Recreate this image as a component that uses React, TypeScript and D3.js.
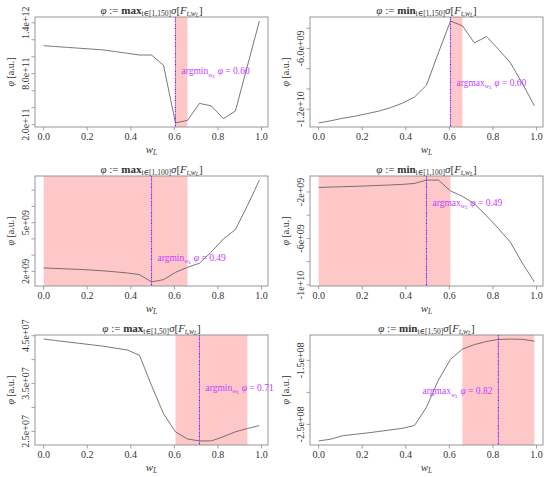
import * as d3 from 'd3';

// grid of w_L values shared by all six panels
const wL = [0, 0.055, 0.11, 0.165, 0.22, 0.275, 0.33, 0.385, 0.44, 0.495, 0.55, 0.605, 0.66, 0.715, 0.77, 0.825, 0.88, 0.935, 0.99];

const maxSigma150 = [1.13e12, 1.12e12, 1.11e12, 1.1e12, 1.09e12, 1.08e12, 1.06e12, 1.04e12, 1.02e12, 1.02e12, 9.0e11, 2.2e11, 2.5e11, 4.5e11, 4.2e11, 2.7e11, 3.6e11, 8.9e11, 1.42e12];
const minQ150 = [-1.336e10, -1.315e10, -1.29e10, -1.27e10, -1.245e10, -1.22e10, -1.185e10, -1.14e10, -1.08e10, -9.63e9, -6.4e9, -3.29e9, -3.76e9, -5.46e9, -4.81e9, -6.07e9, -7.42e9, -9.46e9, -1.166e10];
const maxSigma100 = [2.21e9, 2.18e9, 2.15e9, 2.12e9, 2.08e9, 2.03e9, 1.97e9, 1.9e9, 1.8e9, 1.35e9, 1.49e9, 1.94e9, 2.25e9, 2.5e9, 3.2e9, 4.0e9, 4.57e9, 6.04e9, 7.62e9];
const minQ100 = [-1.62e9, -1.58e9, -1.55e9, -1.52e9, -1.48e9, -1.44e9, -1.4e9, -1.35e9, -1.27e9, -0.98e9, -0.98e9, -1.91e9, -2.38e9, -3.02e9, -4.04e9, -5.15e9, -6.32e9, -8.13e9, -9.74e9];
const maxSigma50 = [4.43e7, 4.4e7, 4.37e7, 4.34e7, 4.31e7, 4.28e7, 4.24e7, 4.2e7, 4.09e7, 3.46e7, 2.87e7, 2.49e7, 2.34e7, 2.3e7, 2.3e7, 2.39e7, 2.49e7, 2.56e7, 2.62e7];
const minQ50 = [-2.757e8, -2.73e8, -2.676e8, -2.655e8, -2.634e8, -2.61e8, -2.585e8, -2.56e8, -2.516e8, -2.23e8, -1.805e8, -1.484e8, -1.324e8, -1.254e8, -1.206e8, -1.174e8, -1.168e8, -1.172e8, -1.2e8];

const seriesList = [maxSigma150, minQ150, maxSigma100, minQ100, maxSigma50, minQ50];
const horizons = ['1,150', '1,150', '1,100', '1,100', '1,50', '1,50'];
const operators = ['max', 'min', 'max', 'min', 'max', 'min'];
const argLabels = ['argmin', 'argmax', 'argmin', 'argmax', 'argmin', 'argmax'];
const bestW = [0.605, 0.605, 0.495, 0.495, 0.715, 0.825];
const bestText = ['0.60', '0.60', '0.49', '0.49', '0.71', '0.82'];
const bands: [number, number][] = [[0.605, 0.66], [0.605, 0.66], [0, 0.66], [0, 0.605], [0.605, 0.935], [0.66, 0.99]];
const labelY = [8.3e11, -9.36e9, 2.84e9, -2.93e9, 3.41e7, -1.98e8];
const labelLeft = [false, false, false, false, false, true];
const yTicks = [
  [2e11, 4e11, 6e11, 8e11, 1e12, 1.2e12, 1.4e12],
  [-1.2e10, -1e10, -8e9, -6e9, -4e9],
  [2e9, 3e9, 4e9, 5e9, 6e9, 7e9],
  [-1e10, -8e9, -6e9, -4e9, -2e9],
  [2.5e7, 3e7, 3.5e7, 4e7, 4.5e7],
  [-2.5e8, -2e8, -1.5e8],
];
const yTickLabels = [
  ['2.0e+11', '', '', '8.0e+11', '', '', '1.4e+12'],
  ['-1.2e+10', '', '', '-6.0e+09', ''],
  ['2e+09', '', '', '5e+09', '', ''],
  ['-1e+10', '', '-6e+09', '', '-2e+09'],
  ['2.5e+07', '', '3.5e+07', '', '4.5e+07'],
  ['-2.5e+08', '', '-1.5e+08'],
];
const xTicks = [0, 0.2, 0.4, 0.6, 0.8, 1.0];

const W = 550;
const H = 477;
const FONT = "'Times New Roman', 'Liberation Serif', Tinos, 'DejaVu Serif', serif";
const BOX_W = 233;
const BOX_H = 110;
const COL_X = [35, 310];
const ROW_Y = [17, 176, 335];
const INK = '#333';

function pad(ext: [number, number]): [number, number] {
  const r = ext[1] - ext[0];
  return [ext[0] - 0.04 * r, ext[1] + 0.04 * r];
}

function Panel({ i }: { i: number }) {
  const left = COL_X[i % 2];
  const top = ROW_Y[Math.floor(i / 2)];
  const values = seriesList[i];
  const x = d3.scaleLinear().domain(pad(d3.extent(wL) as [number, number])).range([left, left + BOX_W]);
  const y = d3.scaleLinear().domain(pad(d3.extent(values) as [number, number])).range([top + BOX_H, top]);
  const line = d3.line<number>().x((_, k) => x(wL[k])).y((d) => y(d));
  const bx = x(bestW[i]);
  const lx = labelLeft[i] ? bx - 6 : bx + 6;
  const midY = top + BOX_H / 2;
  return (
    <g>
      <rect x={x(bands[i][0])} y={top} width={x(bands[i][1]) - x(bands[i][0])} height={BOX_H} fill="#ffc8c8" />
      <path d={line(values) ?? ''} fill="none" stroke="#555" strokeWidth={0.8} />
      <line x1={bx} x2={bx} y1={top} y2={top + BOX_H} stroke="#2a2aff" strokeWidth={1.1} strokeDasharray="1.2 2.4" />
      <line x1={bx} x2={bx} y1={top} y2={top + BOX_H} stroke="#cc33ff" strokeWidth={1.1} strokeDasharray="1.2 2.4" strokeDashoffset={1.8} />
      <text x={lx} y={y(labelY[i])} dy="0.32em" fontSize={9.5} fill="#c23cff" textAnchor={labelLeft[i] ? 'end' : 'start'}>
        {argLabels[i]}
        <tspan fontSize={6.5} dy={2.5} fontStyle="italic">w</tspan>
        <tspan fontSize={5} dy={1} fontStyle="italic">L</tspan>
        <tspan dy={-3.5}> </tspan>
        <tspan fontStyle="italic">φ</tspan>
        <tspan> = {bestText[i]}</tspan>
      </text>
      <rect x={left} y={top} width={BOX_W} height={BOX_H} fill="none" stroke="#8c8c8c" strokeWidth={0.9} />
      {xTicks.map((t) => (
        <g key={t}>
          <line x1={x(t)} x2={x(t)} y1={top + BOX_H} y2={top + BOX_H + 3.5} stroke="#8c8c8c" strokeWidth={0.8} />
          <text x={x(t)} y={top + BOX_H + 13} fontSize={10} textAnchor="middle" fill={INK}>{d3.format('.1f')(t)}</text>
        </g>
      ))}
      {yTicks[i].map((t, k) => (
        <g key={t}>
          <line x1={left} x2={left - 3.5} y1={y(t)} y2={y(t)} stroke="#8c8c8c" strokeWidth={0.8} />
          {yTickLabels[i][k] && (
            <text transform={`translate(${left - 6.5},${y(t)}) rotate(-90)`} fontSize={10} textAnchor="middle" fill={INK}>
              {yTickLabels[i][k]}
            </text>
          )}
        </g>
      ))}
      <text transform={`translate(${left - 21.5},${midY}) rotate(-90)`} fontSize={10} textAnchor="middle" fill={INK}>
        <tspan fontStyle="italic">φ</tspan> [a.u.]
      </text>
      <text x={left + BOX_W / 2} y={top + BOX_H + 26} fontSize={11} textAnchor="middle" fill={INK}>
        <tspan fontStyle="italic">w</tspan>
        <tspan fontSize={7.5} fontStyle="italic" dy={2}>L</tspan>
      </text>
      <text x={left + BOX_W / 2} y={top - 3.5} fontSize={11} textAnchor="middle" fill={INK}>
        <tspan fontStyle="italic">φ</tspan>
        <tspan> := </tspan>
        <tspan fontWeight="bold">{operators[i]}</tspan>
        <tspan fontSize={7.5} dy={2}>{`t∈[${horizons[i]}]`}</tspan>
        <tspan dy={-2} fontStyle="italic">σ</tspan>
        <tspan>[</tspan>
        <tspan fontStyle="italic">F</tspan>
        <tspan fontSize={7.5} fontStyle="italic" dy={2}>t,w</tspan>
        <tspan fontSize={5.5} fontStyle="italic" dy={1}>L</tspan>
        <tspan dy={-3}>]</tspan>
      </text>
    </g>
  );
}

export default function App() {
  return (
    <svg
      width={W}
      height={H}
      viewBox={`0 0 ${W} ${H}`}
      fontFamily={FONT}
      style={{ position: 'absolute', left: 0, top: 0, background: '#fff' }}
    >
      {seriesList.map((_, i) => (
        <Panel key={i} i={i} />
      ))}
    </svg>
  );
}
